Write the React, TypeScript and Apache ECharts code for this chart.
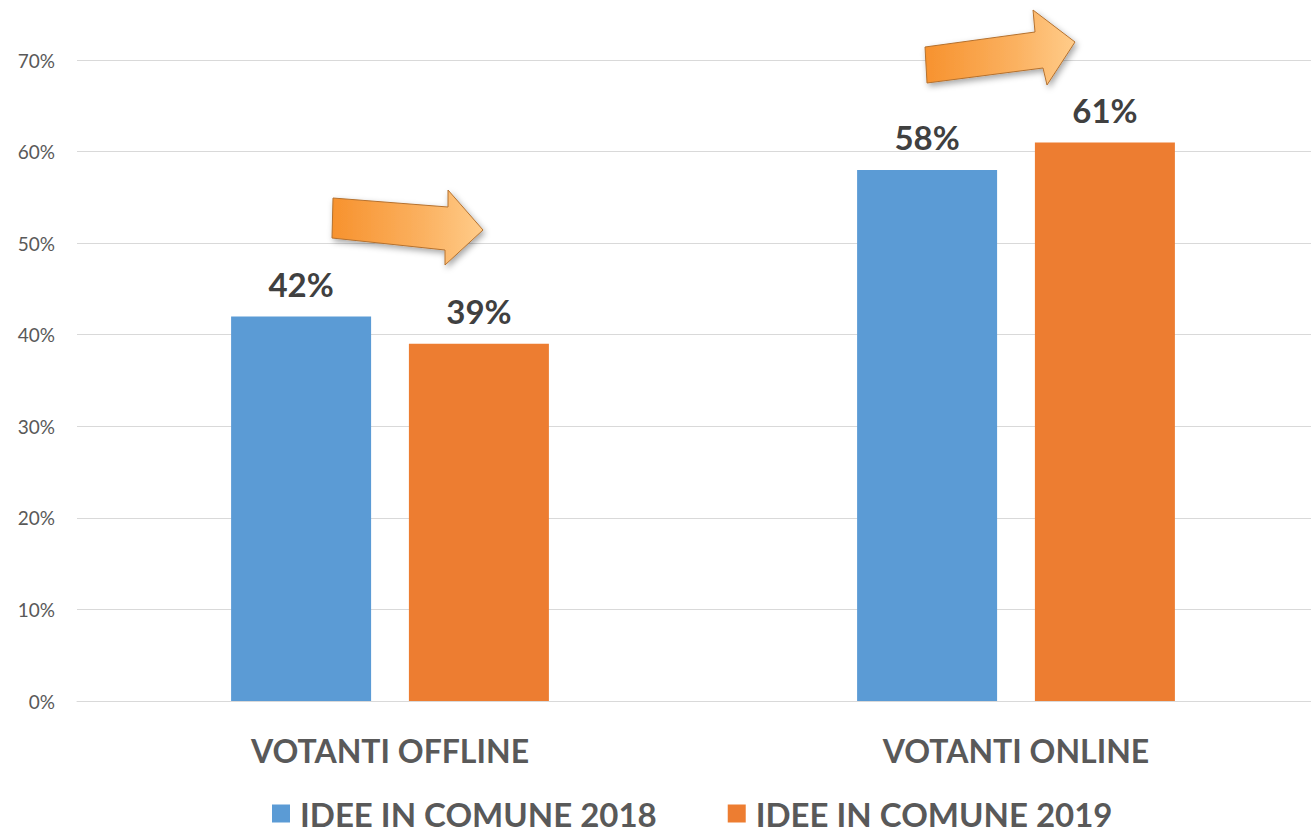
import React, { useEffect, useRef } from "react";
import * as echarts from "echarts";

const categories = ["VOTANTI OFFLINE", "VOTANTI ONLINE"];
const seriesNames = ["IDEE IN COMUNE 2018", "IDEE IN COMUNE 2019"];
const values2018 = [42, 58];
const values2019 = [39, 61];
const colors = ["#5B9BD5", "#ED7D31"];

const FONT = "Lato, 'Open Sans', sans-serif";

function arrow(points: number[][]) {
  return {
    type: "polygon",
    shape: { points },
    style: {
      fill: new echarts.graphic.LinearGradient(0, 0, 1, 0, [
        { offset: 0, color: "#F7922E" },
        { offset: 0.6, color: "#FBB160" },
        { offset: 1, color: "#FFCC8A" },
      ]),
      stroke: "#B5712E",
      lineWidth: 1,
      shadowBlur: 6,
      shadowOffsetX: 2,
      shadowOffsetY: 3,
      shadowColor: "rgba(0,0,0,0.35)",
    },
    z: 100,
  };
}

export default function App() {
  const ref = useRef<HTMLDivElement>(null);
  useEffect(() => {
    if (!ref.current) return;
    const chart = echarts.init(ref.current, undefined, { renderer: "svg" });
    const labelStyle = {
      show: true,
      position: "top",
      distance: 16,
      formatter: "{c}%",
      fontFamily: FONT,
      fontWeight: "bold",
      fontSize: 33,
      color: "#404040",
    };
    chart.setOption({
      animation: false,
      backgroundColor: "#ffffff",
      textStyle: { fontFamily: FONT },
      grid: { left: 77, right: 0, top: 60, bottom: 131 },
      legend: {
        top: 797,
        left: 272,
        padding: 0,
        itemWidth: 18,
        itemHeight: 18,
        itemGap: 71,
        icon: "rect",
        textStyle: {
          fontFamily: FONT,
          fontWeight: "bold",
          fontSize: 33,
          lineHeight: 32,
          padding: [0, 0, 0, 5],
          color: "#595959",
        },
        data: seriesNames,
      },
      xAxis: {
        type: "category",
        data: categories,
        axisLine: { lineStyle: { color: "#D9D9D9", width: 1 } },
        axisTick: { show: false },
        axisLabel: {
          margin: 33,
          fontFamily: FONT,
          fontWeight: "bold",
          fontSize: 32,
          color: "#595959",
        },
      },
      yAxis: {
        type: "value",
        min: 0,
        max: 70,
        interval: 10,
        axisLine: { show: false },
        axisTick: { show: false },
        splitLine: { lineStyle: { color: "#D9D9D9", width: 1 } },
        axisLabel: {
          formatter: "{value}%",
          margin: 22,
          fontFamily: FONT,
          fontSize: 19,
          color: "#595959",
        },
      },
      series: [
        {
          name: seriesNames[0],
          type: "bar",
          data: values2018,
          barWidth: 140,
          barGap: "27%",
          itemStyle: { color: colors[0] },
          label: labelStyle,
        },
        {
          name: seriesNames[1],
          type: "bar",
          data: values2019,
          barWidth: 140,
          barGap: "27%",
          itemStyle: { color: colors[1] },
          label: labelStyle,
        },
      ],
      graphic: [
        arrow([
          [333, 198],
          [448, 207],
          [448, 190],
          [483, 230],
          [445, 265],
          [445, 250],
          [332, 238],
        ]),
        arrow([
          [925, 47],
          [1035, 32],
          [1033, 10],
          [1075, 42],
          [1047, 85],
          [1043, 68],
          [927, 83],
        ]),
      ],
    });
    return () => chart.dispose();
  }, []);
  return (
    <div
      style={{
        position: "fixed",
        left: 0,
        top: 0,
        width: 1311,
        height: 832,
        overflow: "hidden",
      }}
    >
      <div ref={ref} style={{ width: 1329, height: 832 }} />
    </div>
  );
}
